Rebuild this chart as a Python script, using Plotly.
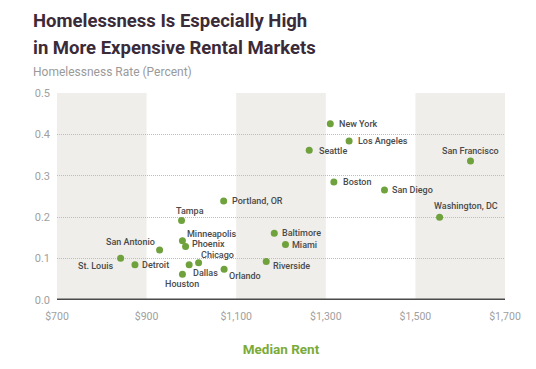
import plotly.graph_objects as go

cities = ["St. Louis", "Detroit", "San Antonio", "Tampa", "Minneapolis", "Phoenix",
          "Chicago", "Dallas", "Houston", "Orlando", "Portland, OR", "Riverside",
          "Baltimore", "Miami", "Seattle", "New York", "Los Angeles", "Boston",
          "San Diego", "San Francisco", "Washington, DC"]
median_rent = [842, 874, 929, 978, 980, 987, 1016, 995, 980, 1073, 1072, 1167,
               1185, 1210, 1263, 1310, 1352, 1318, 1431, 1623, 1554]
homeless_rate = [0.101, 0.085, 0.121, 0.192, 0.143, 0.129, 0.090, 0.085, 0.062, 0.074,
                 0.239, 0.093, 0.161, 0.134, 0.362, 0.426, 0.384, 0.285, 0.266, 0.336, 0.200]
x_ticks = [700, 900, 1100, 1300, 1500, 1700]
x_tick_labels = ["$700", "$900", "$1,100", "$1,300", "$1,500", "$1,700"]
y_ticks = [0.0, 0.1, 0.2, 0.3, 0.4, 0.5]

# label placement: (xanchor, xshift, yshift)
label_pos = {
    "St. Louis": ("right", -6, -8),
    "Detroit": ("left", 5, 0),
    "San Antonio": ("right", -3, 8),
    "Tampa": ("center", 8, 10),
    "Minneapolis": ("left", 3, 7),
    "Phoenix": ("left", 4, 3),
    "Chicago": ("left", 0, 8),
    "Dallas": ("left", 2, -8),
    "Houston": ("center", 0, -10),
    "Orlando": ("left", 3, -7),
    "Portland, OR": ("left", 6, 0),
    "Riverside": ("left", 5, -4),
    "Baltimore": ("left", 6, 0),
    "Miami": ("left", 5, 0),
    "Seattle": ("left", 8, -1),
    "New York": ("left", 7, 0),
    "Los Angeles": ("left", 7, 0),
    "Boston": ("left", 7, 0),
    "San Diego": ("left", 6, 0),
    "San Francisco": ("center", 0, 10),
    "Washington, DC": ("center", 26, 11),
}

FONT = "Roboto, Liberation Sans, sans-serif"
GREEN = "#6fa23c"

fig = go.Figure()

# alternating bands
for i in range(len(x_ticks) - 1):
    if i % 2 == 0:
        fig.add_shape(type="rect", xref="x", yref="y", x0=x_ticks[i], x1=x_ticks[i + 1],
                      y0=0, y1=0.5, fillcolor="#efeeeb", line_width=0, layer="below")

fig.add_trace(go.Scatter(
    x=median_rent, y=homeless_rate, mode="markers",
    marker=dict(color=GREEN, size=7), cliponaxis=False, hoverinfo="text", text=cities))

for c, xv, yv in zip(cities, median_rent, homeless_rate):
    anc, dx, dy = label_pos[c]
    fig.add_annotation(x=xv, y=yv, text=c, showarrow=False, xanchor=anc, yanchor="middle",
                       xshift=dx, yshift=dy,
                       font=dict(family=FONT, size=9, color="#4a4a4a", weight=500))

# baseline
fig.add_shape(type="line", xref="x", yref="y", x0=700, x1=1700, y0=0, y1=0,
              line=dict(color="#4a4a4a", width=3))

# title lines and subtitle
fig.add_annotation(xref="paper", yref="paper", x=-0.058, y=1.348, xanchor="left",
                   yanchor="middle", showarrow=False,
                   text="<b>Homelessness Is Especially High</b>",
                   font=dict(family=FONT, size=18.5, color="#3b2b38"))
fig.add_annotation(xref="paper", yref="paper", x=-0.058, y=1.217, xanchor="left",
                   yanchor="middle", showarrow=False,
                   text="<b>in More Expensive Rental Markets</b>",
                   font=dict(family=FONT, size=18.5, color="#3b2b38"))
fig.add_annotation(xref="paper", yref="paper", x=-0.058, y=1.101, xanchor="left",
                   yanchor="middle", showarrow=False, text="Homelessness Rate (Percent)",
                   font=dict(family=FONT, size=12, color="#9a9a9a"))

fig.update_layout(
    width=536, height=369,
    margin=dict(l=57, r=31, t=93, b=69),
    paper_bgcolor="white", plot_bgcolor="white",
    showlegend=False,
    xaxis=dict(range=[700, 1700], tickvals=x_ticks, ticktext=x_tick_labels,
               showgrid=False, zeroline=False, showline=False, ticks="",
               ticklabelstandoff=8,
               tickfont=dict(family=FONT, size=10.5, color="#a0a0a0"),
               title=dict(text="<b>Median Rent</b>", standoff=23,
                          font=dict(family=FONT, size=13.5, color="#7aab3a"))),
    yaxis=dict(range=[0, 0.5], tickvals=y_ticks, tickformat=".1f",
               showgrid=True, gridcolor="#bdbdbd", griddash="1px,1px", gridwidth=1,
               zeroline=False, showline=False, ticks="",
               ticklabelstandoff=6,
               tickfont=dict(family=FONT, size=11, color="#a0a0a0")),
)

fig.write_html("out.html", config={"displayModeBar": False},
               post_script="document.body.style.margin='0';")
